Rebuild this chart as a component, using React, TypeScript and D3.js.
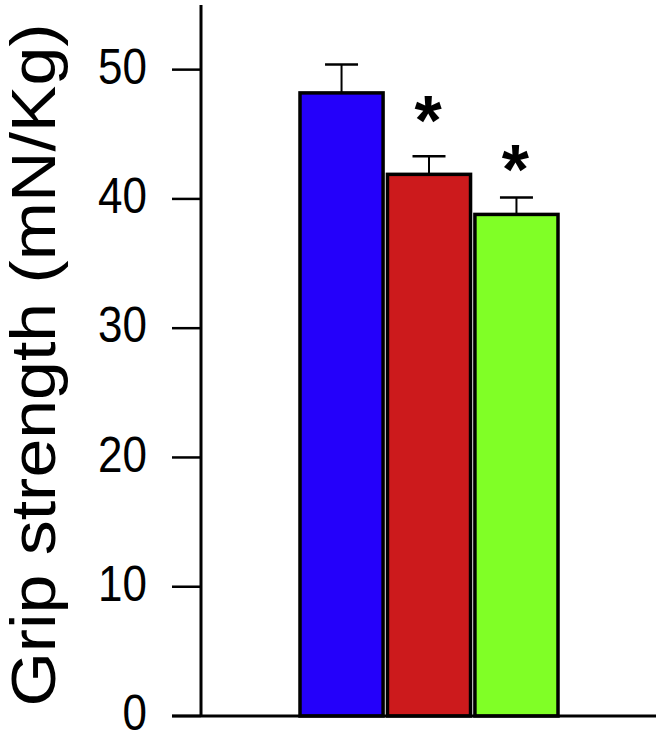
import React from "react";
import * as d3 from "d3";

const categories = ["Group A", "Group B", "Group C"];
const means = [48.2, 41.9, 38.8];
const errors = [2.2, 1.4, 1.3];
const asteriskAt: (number | null)[] = [null, 47.2, 43.4];
const barColors = ["#2400fa", "#cc1a1c", "#80ff26"];
const yTicks = [0, 10, 20, 30, 40, 50];
const yLabel = "Grip strength (mN/Kg)";

const W = 656;
const H = 733;

export default function App() {
  const y = d3.scaleLinear().domain([0, 55]).range([716, 5]);
  const x = d3.scaleBand<string>().domain(categories).range([300, 558]).paddingInner(0.05);
  const axisX = 201;
  const font = "'Liberation Sans', Arial, sans-serif";

  return (
    <svg width={W} height={H} style={{ position: "absolute", left: 0, top: 0, background: "#fff" }}>
      {categories.map((c, i) => {
        const x0 = x(c)!;
        const bw = x.bandwidth();
        const cx = x0 + bw / 2;
        const top = y(means[i]);
        const capY = y(means[i] + errors[i]);
        const a = asteriskAt[i];
        return (
          <g key={c}>
            <line x1={cx} x2={cx} y1={top} y2={capY} stroke="#000" strokeWidth={2} />
            <line x1={cx - 16.5} x2={cx + 16.5} y1={capY} y2={capY} stroke="#000" strokeWidth={2.5} />
            <rect x={x0} y={top} width={bw} height={y(0) - top} fill={barColors[i]} stroke="#000" strokeWidth={3.5} />
            {a !== null && (
              <text x={cx - 1} y={y(a) + 39} textAnchor="middle" fontFamily={font} fontWeight="bold" fontSize={70}>*</text>
            )}
          </g>
        );
      })}
      <line x1={axisX} x2={axisX} y1={y(55)} y2={y(0)} stroke="#000" strokeWidth={3} />
      <line x1={172} x2={W} y1={y(0)} y2={y(0)} stroke="#000" strokeWidth={3} />
      {yTicks.map((t) => (
        <g key={t}>
          <line x1={172} x2={axisX} y1={y(t)} y2={y(t)} stroke="#000" strokeWidth={2.5} />
          <text transform={`translate(147,${y(t) + 14.3}) scale(1,1.12)`} textAnchor="end" fontFamily={font} fontSize={44} fill="#000">{t}</text>
        </g>
      ))}
      <text transform={`translate(55,365) scale(1,1.1) rotate(-90)`} textAnchor="middle" fontFamily={font} fontSize={63.5} fill="#000">{yLabel}</text>
    </svg>
  );
}
